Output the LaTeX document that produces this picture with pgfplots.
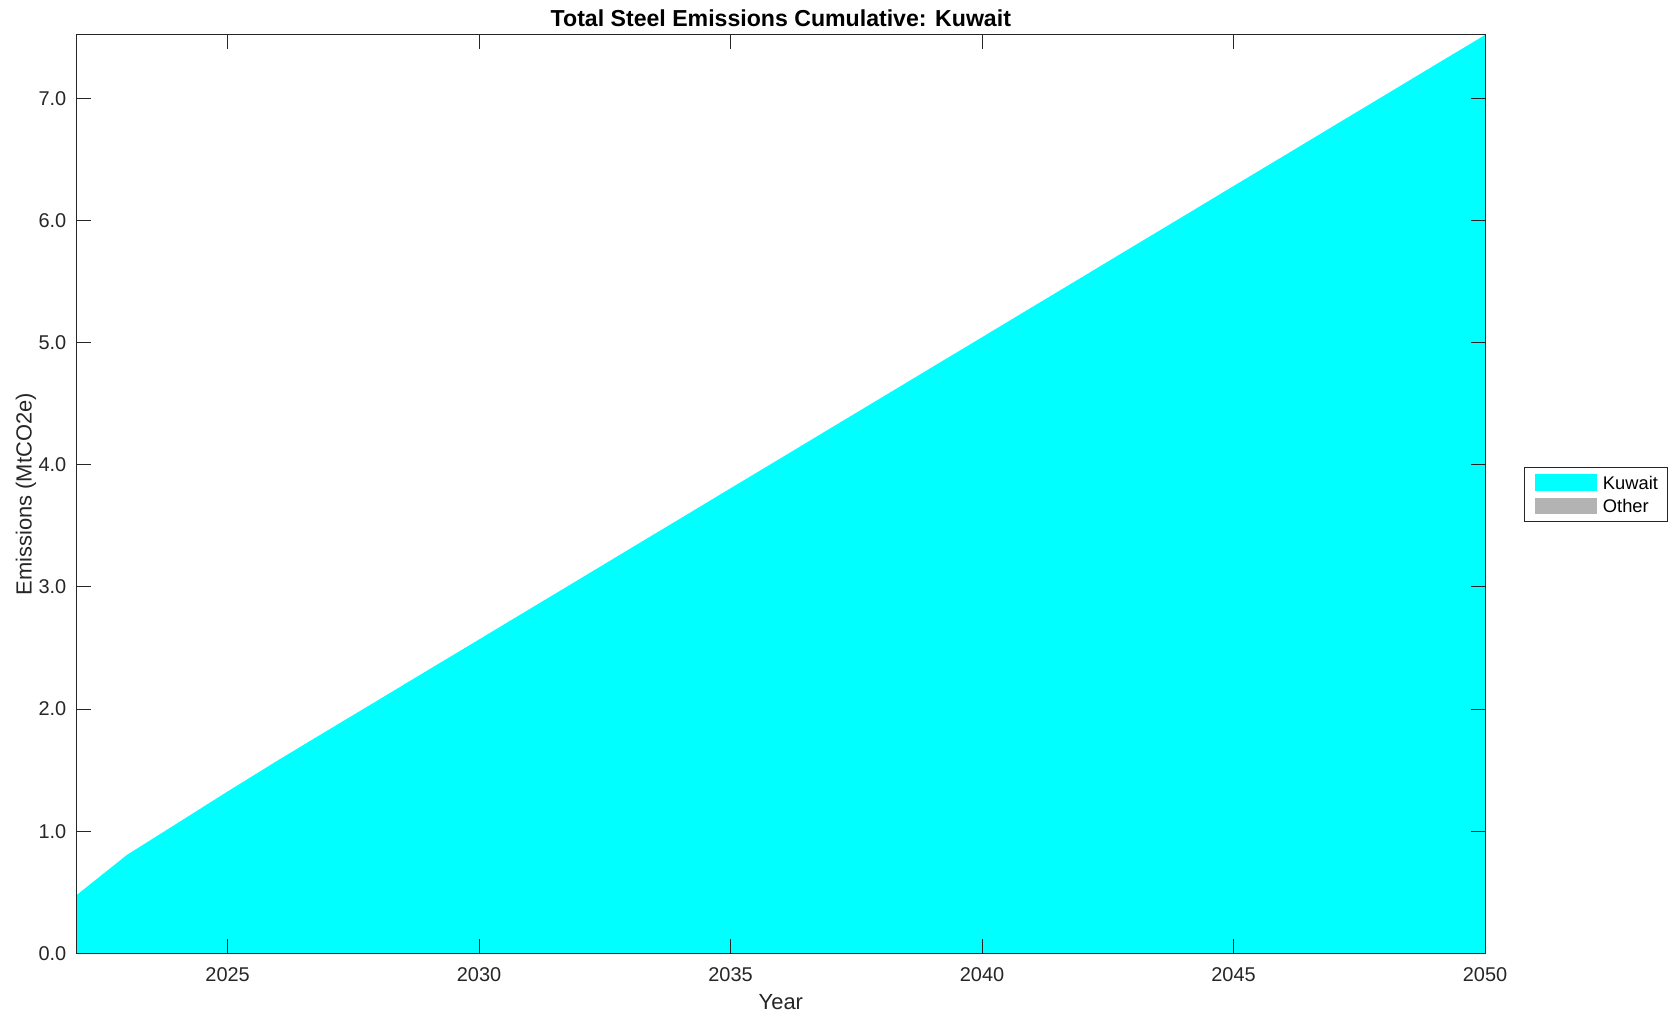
\documentclass[border=0pt]{standalone}
\usepackage{fontspec}
\setmainfont{Liberation Sans}
\usepackage{pgfplots}
\pgfplotsset{compat=1.18}
\usepackage{pgfplotstable}
\definecolor{axgray}{HTML}{262626}
\definecolor{kcyan}{HTML}{00FFFF}
\definecolor{ogray}{HTML}{B3B3B3}
\pgfplotstableread{
year value
2022 0.477
2023 0.806
2024 1.065
2025 1.325
2026 1.580
2027 1.828
2028 2.075
2029 2.323
2030 2.570
2031 2.818
2032 3.065
2033 3.313
2034 3.560
2035 3.808
2036 4.055
2037 4.303
2038 4.550
2039 4.798
2040 5.045
2041 5.293
2042 5.540
2043 5.788
2044 6.035
2045 6.283
2046 6.530
2047 6.778
2048 7.025
2049 7.273
2050 7.520
}\kuwait
\begin{document}
\begin{tikzpicture}
\useasboundingbox (-38.35bp,-33.85bp) rectangle ++(839.5bp,510.5bp);
\begin{axis}[
  at={(0,0)}, anchor=south west,
  scale only axis, width=704.15bp, height=459.15bp,
  xmin=2022, xmax=2050, ymin=0, ymax=7.52,
  xtick={2025,2030,2035,2040,2045,2050},
  ytick={0,1,2,3,4,5,6,7},
  tick align=inside, tick pos=both, major tick length=7bp,
  axis on top,
  axis line style={draw=axgray, line width=0.5bp},
  every tick/.style={axgray, line width=0.5bp},
  /pgf/number format/assume math mode=true,
  x tick label style={/pgf/number format/1000 sep={}, anchor=base, yshift=-14.2bp, inner sep=0pt},
  y tick label style={/pgf/number format/fixed, /pgf/number format/fixed zerofill, /pgf/number format/precision=1, anchor=east, inner sep=0pt, xshift=-5bp},
  tick label style={font=\fontsize{10}{12}\selectfont, text=axgray},
  every axis title shift=0pt,
  title={\bfseries Total Steel Emissions Cumulative: Kuwait},
  title style={at={(axis description cs:0.5,1)}, anchor=base, yshift=4.3bp, font=\fontsize{11.6}{13}\selectfont, inner sep=0pt},
  xlabel={Year},
  xlabel style={at={(axis description cs:0.5,-0.061)}, anchor=base, inner sep=0pt, font=\fontsize{11}{13}\selectfont, text=axgray},
  ylabel={Emissions (MtCO2e)},
  ylabel style={at={(axis description cs:-0.032,0.5)}, anchor=base, inner sep=0pt, font=\fontsize{11}{13}\selectfont, text=axgray},
  legend image code/.code={\fill[#1] (0bp,-4.15bp) rectangle (31bp,4.15bp);},
  legend cell align=left,
  legend style={at={(axis description cs:1.028,0.5)}, anchor=west,
    draw=axgray, line width=0.5bp, inner xsep=5bp, inner ysep=3.5bp,
    row sep=3.4bp, column sep=3bp,
    font=\fontsize{9.2}{11}\selectfont,
    nodes={inner sep=0pt, text height=6.6bp, text depth=0pt}},
]
\addplot[fill=kcyan, draw=none] table[x=year, y=value] {\kuwait} \closedcycle;
\addlegendentry{Kuwait}
\addlegendimage{fill=ogray, draw=none}
\addlegendentry{Other}
\end{axis}
\end{tikzpicture}
\end{document}
